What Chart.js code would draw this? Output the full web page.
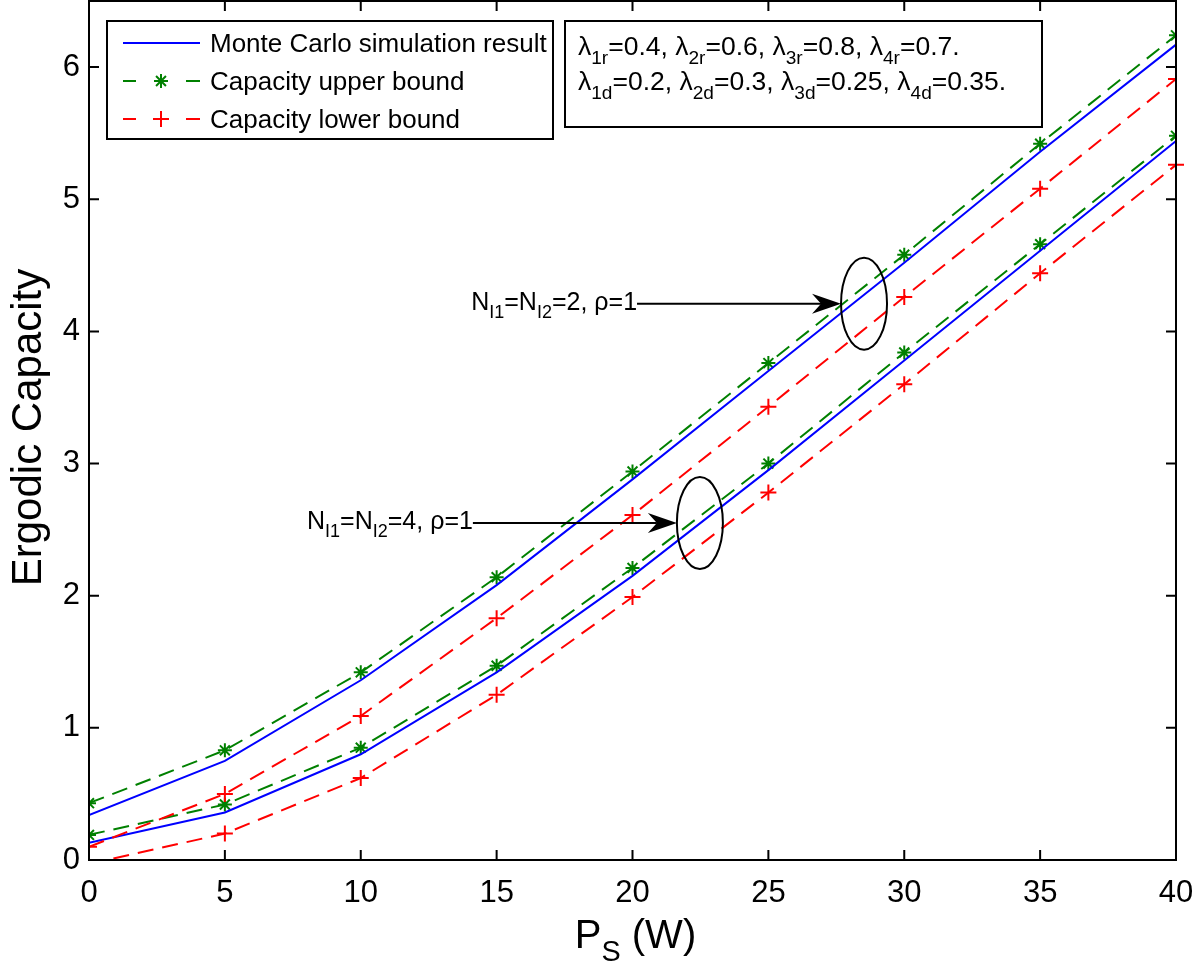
<!DOCTYPE html>
<html>
<head>
<meta charset="utf-8">
<script src="https://cdn.jsdelivr.net/npm/chart.js@4/dist/chart.umd.min.js"></script>
<style>
  body { margin: 0; background: #fff; }
  canvas { display: block; }
</style>
</head>
<body>
<canvas id="chart" width="1200" height="964"></canvas>
<script>
var FONT = '"Liberation Sans", Arial, Helvetica, sans-serif';

// transmit power Ps (W)
var powerValues = [0, 5, 10, 15, 20, 25, 30, 35, 40];

// N_I1 = N_I2 = 2
var simN2 = [0.34, 0.75, 1.36, 2.08, 2.88, 3.70, 4.52, 5.36, 6.17];
var upperN2 = [0.43, 0.83, 1.42, 2.14, 2.94, 3.76, 4.58, 5.42, 6.24];
var lowerN2 = [0.10, 0.50, 1.09, 1.83, 2.61, 3.43, 4.26, 5.08, 5.91];

// N_I1 = N_I2 = 4
var simN4 = [0.13, 0.36, 0.80, 1.42, 2.15, 2.95, 3.78, 4.61, 5.44];
var upperN4 = [0.19, 0.42, 0.85, 1.47, 2.21, 3.00, 3.84, 4.66, 5.48];
var lowerN4 = [-0.03, 0.20, 0.62, 1.25, 1.99, 2.78, 3.60, 4.44, 5.26];

var xTicks = [0, 5, 10, 15, 20, 25, 30, 35, 40];
var yTicks = [0, 1, 2, 3, 4, 5, 6];

var legendLabels = ["Monte Carlo simulation result", "Capacity upper bound", "Capacity lower bound"];
var paramLines = [
    "λ_{1r}=0.4, λ_{2r}=0.6, λ_{3r}=0.8, λ_{4r}=0.7.",
    "λ_{1d}=0.2, λ_{2d}=0.3, λ_{3d}=0.25, λ_{4d}=0.35."
];
// ellipse centres in data units
var groupLabels = ["N_{I1}=N_{I2}=2, ρ=1", "N_{I1}=N_{I2}=4, ρ=1"];
var groupCentersX = [28.52, 22.48];
var groupCentersY = [4.21, 2.55];

var BLUE = "rgb(0, 0, 255)";
var GREEN = "rgb(0, 128, 0)";
var RED = "rgb(255, 0, 0)";

function toPoints (values) {
    return values.map(function (v, i) {
        return { x: powerValues[i], y: v };
    });
}

function simSet (values) {
    return {
        data: toPoints(values),
        borderColor: BLUE,
        borderWidth: 2,
        pointRadius: 0,
        tension: 0
    };
}

function boundSet (values, color, style, radius) {
    return {
        data: toPoints(values),
        borderColor: color,
        borderWidth: 2,
        borderDash: [16, 9],
        pointStyle: style,
        pointRadius: radius,
        pointBorderColor: color,
        pointBorderWidth: 2,
        pointBackgroundColor: color,
        tension: 0
    };
}

// parse "a_{b}c" into runs
function parseRich (text) {
    let parts = [];
    let re = /_\{([^}]*)\}/g;
    let last = 0, m;
    while ((m = re.exec(text)) !== null) {
        if (m.index > last) parts.push({ t: text.slice(last, m.index), sub: false });
        parts.push({ t: m[1], sub: true });
        last = re.lastIndex;
    }
    if (last < text.length) parts.push({ t: text.slice(last), sub: false });
    return parts;
}

function richWidth (ctx, text, size) {
    let w = 0;
    parseRich(text).forEach(function (p) {
        ctx.font = (p.sub ? size * 0.72 : size) + "px " + FONT;
        w += ctx.measureText(p.t).width;
    });
    return w;
}

function drawRich (ctx, text, x, y, size) {
    ctx.textAlign = "left";
    ctx.textBaseline = "alphabetic";
    parseRich(text).forEach(function (p) {
        ctx.font = (p.sub ? size * 0.72 : size) + "px " + FONT;
        ctx.fillText(p.t, x, p.sub ? y + size * 0.33 : y);
        x += ctx.measureText(p.t).width;
    });
}

function drawMarker (ctx, style, x, y, r) {
    let angles = style == "star" ? [0, 45, 90, 135] : [0, 90];
    ctx.beginPath();
    angles.forEach(function (a) {
        let dx = Math.cos(a * Math.PI / 180) * r;
        let dy = Math.sin(a * Math.PI / 180) * r;
        ctx.moveTo(x - dx, y - dy);
        ctx.lineTo(x + dx, y + dy);
    });
    ctx.stroke();
}

function drawArrow (ctx, x0, x1, y) {
    ctx.beginPath();
    ctx.moveTo(x0, y);
    ctx.lineTo(x1 - 20, y);
    ctx.stroke();
    ctx.beginPath();
    ctx.moveTo(x1, y);
    ctx.lineTo(x1 - 29, y - 10);
    ctx.lineTo(x1 - 20, y);
    ctx.lineTo(x1 - 29, y + 10);
    ctx.closePath();
    ctx.fill();
}

var overlay = {
    id: "overlay",
    afterDraw: function (chart) {
        let ctx = chart.ctx;
        let area = chart.chartArea;
        let xs = chart.scales.x;
        let ys = chart.scales.y;
        ctx.save();
        ctx.strokeStyle = "#000";
        ctx.fillStyle = "#000";
        ctx.lineWidth = 2;

        // axes box
        ctx.strokeRect(area.left, area.top, area.right - area.left, area.bottom - area.top);

        // inward tick marks on all four sides
        ctx.beginPath();
        xTicks.forEach(function (v) {
            let px = xs.getPixelForValue(v);
            ctx.moveTo(px, area.bottom); ctx.lineTo(px, area.bottom - 10);
            ctx.moveTo(px, area.top); ctx.lineTo(px, area.top + 10);
        });
        yTicks.forEach(function (v) {
            let py = ys.getPixelForValue(v);
            ctx.moveTo(area.left, py); ctx.lineTo(area.left + 10, py);
            ctx.moveTo(area.right, py); ctx.lineTo(area.right - 10, py);
        });
        ctx.stroke();

        // legend
        let lx = 107, ly = 21, lw = 446, lh = 118;
        ctx.fillStyle = "#fff";
        ctx.fillRect(lx, ly, lw, lh);
        ctx.strokeRect(lx, ly, lw, lh);
        let rowY = [43, 81, 119];
        let sets = chart.data.datasets;
        [0, 1, 2].forEach(function (i) {
            let ds = sets[i];
            let y = rowY[i];
            ctx.strokeStyle = ds.borderColor;
            ctx.lineWidth = 2;
            ctx.beginPath();
            if (i == 0) {
                ctx.moveTo(123, y); ctx.lineTo(200, y);
            } else {
                ctx.moveTo(123, y); ctx.lineTo(136, y);
                ctx.moveTo(186, y); ctx.lineTo(200, y);
            }
            ctx.stroke();
            if (i > 0) drawMarker(ctx, ds.pointStyle, 161, y, ds.pointRadius);
            ctx.fillStyle = "#000";
            drawRich(ctx, legendLabels[i], 210, y + 9, 26);
        });

        // parameter box
        ctx.strokeStyle = "#000";
        ctx.fillStyle = "#fff";
        ctx.fillRect(565, 21, 477, 106);
        ctx.strokeRect(565, 21, 477, 106);
        ctx.fillStyle = "#000";
        drawRich(ctx, paramLines[0], 578, 55, 26.5);
        drawRich(ctx, paramLines[1], 578, 90, 26.5);

        // group annotations: label, arrow and ellipse
        groupLabels.forEach(function (label, i) {
            let cx = xs.getPixelForValue(groupCentersX[i]);
            let cy = ys.getPixelForValue(groupCentersY[i]);
            let rx = 23, ry = 46;
            ctx.beginPath();
            ctx.ellipse(cx, cy, rx, ry, 0, 0, Math.PI * 2);
            ctx.stroke();
            let start = cx - 227;
            drawArrow(ctx, start, cx - rx, cy);
            let w = richWidth(ctx, label, 25);
            drawRich(ctx, label, start - w, cy + 6, 25);
        });

        // axis titles
        ctx.save();
        ctx.translate(41, (area.top + area.bottom) / 2 - 3);
        ctx.rotate(-Math.PI / 2);
        ctx.font = "42px " + FONT;
        ctx.textAlign = "center";
        ctx.textBaseline = "alphabetic";
        ctx.fillText("Ergodic Capacity", 0, 0);
        ctx.restore();

        let tw = richWidth(ctx, "P_{S} (W)", 40);
        drawRich(ctx, "P_{S} (W)", (area.left + area.right) / 2 - tw / 2 + 3, 948, 40);
        ctx.restore();
    }
};

var datasets = [
    simSet(simN2),
    boundSet(upperN2, GREEN, "star", 7),
    boundSet(lowerN2, RED, "cross", 8),
    simSet(simN4),
    boundSet(upperN4, GREEN, "star", 7),
    boundSet(lowerN4, RED, "cross", 8)
];
// the lowest curve starts below zero: cut it at the x axis
datasets[5].clip = { left: 12, top: 12, right: 12, bottom: 0 };

var chart = new Chart(document.getElementById("chart"), {
    type: "line",
    data: { datasets: datasets },
    options: {
        responsive: false,
        animation: false,
        devicePixelRatio: 1,
        layout: {
            autoPadding: false,
            padding: { top: 1, right: 24, left: 0, bottom: 0 }
        },
        plugins: {
            legend: { display: false },
            tooltip: { enabled: false }
        },
        scales: {
            x: {
                type: "linear",
                min: 0,
                max: 40,
                afterBuildTicks: function (scale) {
                    scale.ticks = xTicks.map(function (v) { return { value: v }; });
                },
                afterFit: function (scale) {
                    scale.height = 104;
                    scale.paddingLeft = 0;
                    scale.paddingRight = 0;
                },
                grid: { display: false, drawTicks: false },
                border: { display: false },
                ticks: {
                    color: "#000",
                    font: { family: FONT, size: 31 },
                    padding: 15,
                    maxRotation: 0,
                    autoSkip: false
                }
            },
            y: {
                type: "linear",
                min: 0,
                max: 6.5,
                afterBuildTicks: function (scale) {
                    scale.ticks = yTicks.map(function (v) { return { value: v }; });
                },
                afterFit: function (scale) {
                    scale.width = 89;
                    scale.paddingTop = 0;
                    scale.paddingBottom = 0;
                },
                grid: { display: false, drawTicks: false },
                border: { display: false },
                ticks: {
                    color: "#000",
                    font: { family: FONT, size: 31 },
                    padding: 9
                }
            }
        }
    },
    plugins: [overlay]
});
</script>
</body>
</html>
